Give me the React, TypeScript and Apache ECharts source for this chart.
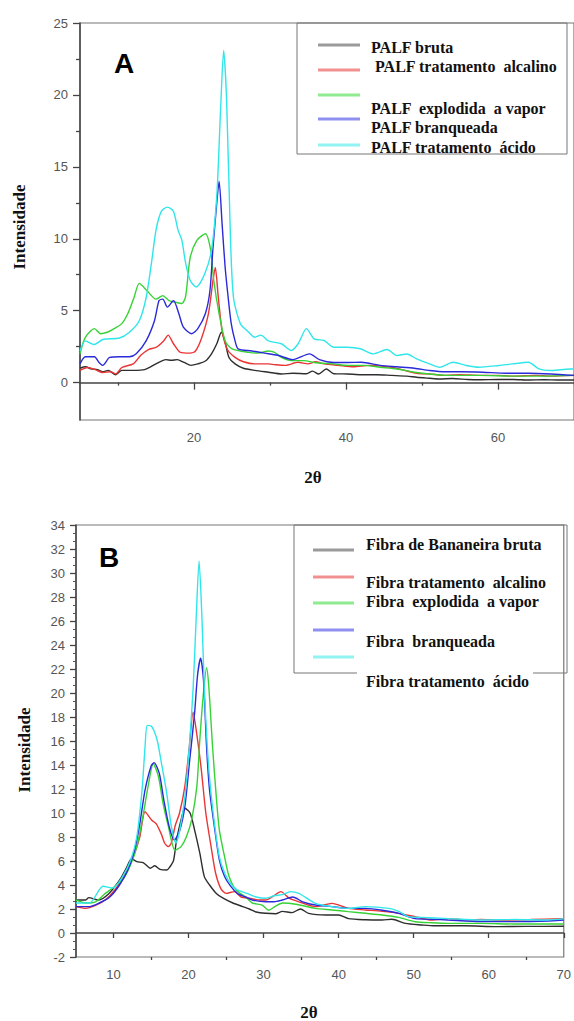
import React, { useEffect, useRef } from "react";
import * as echarts from "echarts";

// ---------- Chart A (PALF) ----------
const aBruta: number[][] = [[5,1.0],[5.7,1.1],[6.5,0.95],[7.3,0.9],[8,0.75],[8.7,0.85],[9.7,0.55],[10.5,0.85],[12,0.85],[13.5,0.9],[15,1.3],[16.3,1.6],[17,1.55],[17.8,1.6],[18.7,1.4],[19.6,1.2],[20.5,1.3],[21.5,1.5],[22.3,2.0],[23,2.7],[23.6,3.5],[24.1,2.8],[24.6,1.75],[25.4,1.3],[26.5,1.0],[28,0.85],[29.8,0.72],[31.5,0.6],[33,0.65],[34.8,0.62],[35.6,0.8],[36.4,0.6],[37.4,0.95],[38.4,0.62],[40.2,0.6],[42,0.55],[44,0.55],[46,0.5],[48,0.45],[49.3,0.37],[51,0.3],[52.3,0.25],[54,0.28],[56,0.22],[57.5,0.2],[60,0.22],[62,0.22],[64,0.18],[66,0.2],[68,0.18],[70,0.18]];
const aAlcalino: number[][] = [[5,0.85],[6,1.05],[7,0.9],[8,0.7],[9,0.75],[9.7,0.6],[10.5,1.05],[12,1.3],[13,1.9],[14,2.3],[15,2.45],[16,2.9],[16.6,3.3],[17.3,2.7],[18.2,2.1],[19.5,2.05],[20.2,2.2],[21,3.1],[21.9,4.8],[22.5,7.1],[22.8,8.0],[23.2,5.9],[23.7,3.6],[24.4,2.3],[25.4,1.75],[26.5,1.45],[28,1.3],[29.8,1.3],[30.6,1.25],[32,1.2],[33.7,1.41],[35,1.3],[36,1.45],[37.1,1.3],[39,1.2],[41,1.1],[43,1.2],[45.4,1.1],[47,0.95],[49.3,0.65],[51,0.6],[53,0.5],[55,0.55],[57.5,0.5],[60,0.5],[62,0.45],[65,0.5],[67,0.45],[70,0.5]];
const aExplodida: number[][] = [[5,2.0],[5.7,3.15],[6.9,3.75],[7.7,3.4],[8.6,3.5],[9.5,3.75],[10.5,4.1],[11.3,4.8],[12.1,5.9],[12.8,6.9],[13.8,6.4],[15,5.8],[15.9,6.05],[16.7,5.7],[17.5,5.6],[18.4,5.5],[18.9,6.0],[19.5,8.7],[20.4,9.9],[21.5,10.35],[22.2,9.2],[22.6,7.1],[23.3,4.8],[24.1,2.9],[25,2.35],[27.2,2.1],[28.5,2.05],[29.8,2.2],[30.6,2.1],[31.5,1.75],[32.8,1.53],[34.5,1.53],[35.8,1.4],[38.4,1.3],[40.2,1.2],[42.3,1.2],[44.5,1.07],[46.7,0.95],[49,0.72],[51,0.6],[53.2,0.5],[57.5,0.5],[62,0.45],[66,0.45],[70,0.5]];
const aBranqueada: number[][] = [[5,1.3],[5.7,1.8],[6.9,1.8],[7.5,1.4],[8,1.2],[8.9,1.75],[10.2,1.8],[11.5,1.8],[12.4,2.0],[13.7,2.9],[14.8,4.3],[15.4,5.7],[15.9,5.8],[16.5,5.25],[17.3,5.7],[18,4.8],[18.6,3.85],[19.7,3.4],[20.5,3.75],[21.5,4.8],[22.1,6.4],[22.5,9.4],[23.0,12.5],[23.3,14.0],[23.7,11.0],[24.1,8.0],[24.5,5.9],[24.9,4.1],[25.4,2.9],[25.8,2.35],[27.6,2.2],[29.3,2.05],[31,1.9],[33,1.6],[35.2,2.0],[36.5,1.6],[38.4,1.4],[40.2,1.4],[42,1.41],[44.5,1.2],[46.7,1.1],[49,1.0],[51,0.84],[53,0.75],[55,0.75],[58,0.72],[61,0.65],[64,0.65],[67,0.6],[70,0.5]];
const aAcido: number[][] = [[5,2.2],[5.7,2.9],[6.9,2.65],[8,3.0],[10.2,3.1],[11.5,3.5],[12.8,4.3],[13.7,5.9],[14.4,8.3],[15.0,10.6],[15.7,11.9],[16.5,12.2],[17.3,11.9],[17.9,10.6],[18.4,9.9],[18.9,8.3],[19.5,7.1],[20.3,6.65],[21.4,7.55],[22.3,9.2],[23.0,13.0],[23.5,19.0],[23.9,23.1],[24.3,19.5],[24.8,10.0],[25.2,5.9],[26.1,4.1],[27.2,3.5],[28.0,3.15],[28.8,3.3],[29.8,2.9],[31.5,2.7],[32.8,2.23],[33.7,2.7],[34.8,3.75],[35.8,3.04],[37.1,2.93],[38.4,2.46],[40.2,2.46],[41.9,2.35],[43.6,2.0],[45.4,2.3],[46.7,1.88],[48,1.99],[49.3,1.65],[51,1.3],[52.3,1.07],[54.1,1.41],[55.8,1.19],[57.5,1.07],[60.1,1.19],[61.9,1.3],[64,1.41],[65.4,0.95],[67.1,0.84],[69.4,0.95],[70,0.95]];

// ---------- Chart B (Bananeira) ----------
const bBruta: number[][] = [[5,2.75],[6.3,2.75],[6.7,2.95],[8,2.75],[9.4,3.3],[10.8,4.4],[11.7,5.4],[12.4,6.2],[13.1,5.95],[14,5.85],[14.9,5.4],[15.5,5.6],[16.2,5.3],[17.1,5.25],[17.5,5.5],[18,6.05],[18.4,7.75],[19.1,9.7],[19.5,10.4],[20.2,10.0],[20.8,8.6],[21.5,6.65],[22.1,4.7],[22.8,4.0],[23.7,3.3],[24.6,2.9],[25.9,2.5],[27.2,2.2],[28.1,2.0],[29,1.75],[30.3,1.64],[31.6,1.6],[32.5,1.8],[33.8,1.7],[34.9,2.0],[36,1.64],[38.3,1.5],[40,1.5],[41.3,1.2],[43.6,1.1],[45.8,1.08],[47.1,1.15],[48.9,0.8],[51.1,0.67],[52.8,0.6],[56.8,0.6],[61.2,0.53],[65,0.55],[70,0.56]];
const bAlcalino: number[][] = [[5,2.2],[6.3,2.05],[7.6,2.3],[8.9,2.75],[10.2,3.6],[11.5,4.85],[12.6,6.3],[13.5,8.0],[14.2,10.1],[15.1,9.4],[15.7,9.1],[16.4,8.2],[16.8,7.5],[17.3,7.2],[17.7,7.5],[18.2,8.9],[18.8,10.0],[19.5,12.2],[20.1,15.5],[20.6,18.4],[21.2,16.1],[21.7,13.6],[22.3,10.0],[23,7.2],[23.6,5.0],[24.3,3.7],[25,3.3],[26.1,3.45],[27,3.0],[28.1,2.9],[29.5,2.75],[30.3,2.75],[31.2,3.03],[32.3,3.45],[33.4,2.9],[34.7,2.6],[36.9,2.2],[39.1,2.47],[41.3,2.05],[43.6,1.92],[45.8,1.8],[48,1.64],[50.2,1.36],[52.4,1.08],[54.6,1.2],[56.8,1.08],[59,1.12],[61.2,1.08],[65.6,1.12],[69.9,1.2]];
const bExplodida: number[][] = [[5,2.75],[6.3,2.5],[7.6,2.6],[8.9,3.3],[10.2,3.9],[11.5,4.7],[12.6,6.2],[13.3,7.75],[14,10.0],[14.6,12.2],[15.3,14.1],[16,13.0],[16.6,10.8],[17.3,8.9],[18.2,6.9],[19,7.2],[19.7,8.0],[20.4,9.4],[21.1,12.2],[21.5,16.1],[21.9,19.4],[22.4,22.1],[22.7,20.5],[23.2,15.5],[23.7,11.3],[24.1,8.6],[24.8,6.35],[25.4,4.7],[26.3,3.6],[27.6,3.0],[28.5,2.5],[29.8,2.33],[30.7,1.9],[31.5,2.2],[32.5,2.5],[34.3,2.4],[36.9,2.05],[39.1,1.92],[41.3,1.78],[43.6,1.64],[45.8,1.5],[48,1.3],[50.2,0.94],[52.4,0.85],[54.6,0.8],[59,0.8],[63.4,0.75],[67.9,0.75],[70,0.75]];
const bBranqueada: number[][] = [[5,2.2],[6.8,2.2],[8.1,2.5],[9.5,3.0],[10.8,4.0],[11.9,5.25],[12.8,6.9],[13.5,9.1],[14.2,11.9],[15.0,13.9],[15.4,14.2],[16.1,13.3],[16.7,11.1],[17.4,8.9],[18.1,7.75],[18.8,8.5],[19.5,10.5],[20.1,14.1],[20.8,18.3],[21.2,21.5],[21.6,22.9],[22.0,21.0],[22.4,15.5],[22.8,11.9],[23.5,8.6],[24.1,6.1],[24.8,4.7],[25.6,3.9],[26.5,3.3],[27.6,3.0],[28.5,2.75],[30.3,2.6],[31.4,2.6],[32.5,2.75],[33.9,3.0],[35.2,2.6],[36.9,2.33],[39.1,2.2],[41.3,2.05],[43.6,2.05],[45.8,1.9],[48,1.64],[50.2,1.2],[52.4,1.15],[54.6,1.08],[59,0.95],[63.4,0.95],[67.9,1.0],[70,1.08]];
const bAcido: number[][] = [[5,2.5],[6.8,2.5],[8.6,3.9],[9.9,3.75],[11.2,4.7],[12.3,6.1],[13.1,8.0],[13.8,11.9],[14.2,15.5],[14.5,17.3],[15.1,17.2],[15.8,16.1],[16.4,14.1],[17.1,11.6],[17.7,8.9],[18.3,7.5],[18.8,8.5],[19.5,11.3],[20.1,15.5],[20.6,20.3],[21.0,26.0],[21.4,31.0],[21.8,26.0],[22.1,20.3],[22.5,15.5],[22.9,12.2],[23.5,8.9],[24.1,6.35],[24.8,5.0],[25.6,4.1],[26.5,3.6],[27.8,3.3],[29,3.0],[30.3,2.9],[31.4,3.1],[32.5,3.2],[33.6,3.45],[34.7,3.3],[36.9,2.47],[39.1,2.2],[41.3,2.05],[43.6,2.2],[46.7,2.05],[48,1.8],[49.3,1.36],[51,1.3],[54.6,1.2],[59,1.08],[63.4,1.12],[67.9,1.08],[70,1.2]];

const legendA = ["PALF bruta", "PALF tratamento  alcalino", "PALF  explodida  a vapor", "PALF branqueada", "PALF tratamento  ácido"];
const legendB = ["Fibra de Bananeira bruta", "Fibra tratamento  alcalino", "Fibra  explodida  a vapor", "Fibra  branqueada", "Fibra tratamento  ácido"];

const xTicksA = [20, 40, 60];
const xMinorA = [10, 30, 50, 70];
const yTicksA = [0, 5, 10, 15, 20, 25];
const yMinorA = [2.5, 7.5, 12.5, 17.5, 22.5];
const xTicksB = [10, 20, 30, 40, 50, 60, 70];
const xMinorB = [15, 25, 35, 45, 55, 65];

const lineColors = ["#2e2e2e", "#ea3535", "#36d236", "#2a2ad8", "#30e6ea"];
const legendColors = ["#9a9a9a", "#f29090", "#90ea90", "#8f8ff2", "#92f3f3"];

const SERIF = '"Liberation Serif", "Times New Roman", serif';
const SANS = '"Liberation Sans", Arial, sans-serif';

export default function App() {
  const ref = useRef<HTMLDivElement>(null);
  useEffect(() => {
    if (!ref.current) return;
    const chart = echarts.init(ref.current, undefined, { renderer: "svg" });
    const axisLine = { show: true, lineStyle: { color: "#444", width: 1.5 } };
    const tickLabel = { color: "#555", fontSize: 13, fontFamily: SANS };

    const mk = (name: string, data: number[][], i: number, grid: number) => ({
      type: "line",
      name,
      data,
      xAxisIndex: grid === 0 ? 0 : 2,
      yAxisIndex: grid === 0 ? 0 : 2,
      showSymbol: false,
      symbol: "none",
      smooth: 0.25,
      lineStyle: { color: lineColors[i], width: 1.4 },
      itemStyle: { color: lineColors[i] },
    });

    const seriesA = [aBruta, aAlcalino, aExplodida, aBranqueada, aAcido].map((d, i) => mk(legendA[i], d, i, 0));
    const seriesB = [bBruta, bAlcalino, bExplodida, bBranqueada, bAcido].map((d, i) => mk(legendB[i], d, i, 1));

    const legendLinesA = [45, 70, 95, 119, 145];
    const legendTextA = [47, 66, 108, 127, 147];
    const legendLinesB = [550, 577, 603, 630, 657];
    const legendTextB = [544, 582, 601, 641, 681];

    const elements: any[] = [];
    elements.push({ type: "rect", shape: { x: 297, y: 23, width: 270, height: 131 }, style: { fill: "transparent", stroke: "#777", lineWidth: 1 }, z: 10 });
    elements.push({ type: "rect", shape: { x: 294, y: 525, width: 273, height: 148 }, style: { fill: "transparent", stroke: "#777", lineWidth: 1 }, z: 10 });
    legendLinesA.forEach((y, i) => {
      elements.push({ type: "line", shape: { x1: 318, y1: y, x2: 360, y2: y }, style: { stroke: legendColors[i], lineWidth: 3 }, z: 11 });
    });
    legendLinesB.forEach((y, i) => {
      elements.push({ type: "line", shape: { x1: 313, y1: y, x2: 354, y2: y }, style: { stroke: legendColors[i], lineWidth: 3 }, z: 11 });
    });
    legendA.forEach((t, i) => {
      elements.push({ type: "text", x: i === 1 ? 375 : 371, y: legendTextA[i], style: { text: t, font: `bold 16px ${SERIF}`, fill: "#111", align: "left", verticalAlign: "middle", textAlign: "left", textVerticalAlign: "middle" }, z: 12 });
    });
    legendB.forEach((t, i) => {
      const last = i === 4;
      elements.push({
        type: "text", x: last ? 357 : 366, y: legendTextB[i],
        style: {
          text: t, font: `bold 16px ${SERIF}`, fill: "#111", align: "left", verticalAlign: "middle", textAlign: "left", textVerticalAlign: "middle",
          backgroundColor: last ? "#fff" : undefined, padding: last ? [5, 4, 2, 9] : undefined,
        },
        z: 12,
      });
    });
    // panel letters
    elements.push({ type: "text", x: 114, y: 63, style: { text: "A", font: `bold 28px ${SANS}`, fill: "#000", align: "left", verticalAlign: "middle", textAlign: "left", textVerticalAlign: "middle" }, z: 12 });
    elements.push({ type: "text", x: 99, y: 557, style: { text: "B", font: `bold 28px ${SANS}`, fill: "#000", align: "left", verticalAlign: "middle", textAlign: "left", textVerticalAlign: "middle" }, z: 12 });
    // axis titles
    elements.push({ type: "text", x: 19, y: 227, rotation: Math.PI / 2, style: { text: "Intensidade", font: `bold 17px ${SERIF}`, fill: "#111", align: "center", verticalAlign: "middle", textAlign: "center", textVerticalAlign: "middle" }, z: 12 });
    elements.push({ type: "text", x: 24, y: 750, rotation: Math.PI / 2, style: { text: "Intensidade", font: `bold 17px ${SERIF}`, fill: "#111", align: "center", verticalAlign: "middle", textAlign: "center", textVerticalAlign: "middle" }, z: 12 });
    elements.push({ type: "text", x: 313, y: 477, style: { text: "2θ", font: `bold 17px ${SERIF}`, fill: "#111", align: "center", verticalAlign: "middle", textAlign: "center", textVerticalAlign: "middle" }, z: 12 });
    elements.push({ type: "text", x: 309, y: 1012, style: { text: "2θ", font: `bold 17px ${SERIF}`, fill: "#111", align: "center", verticalAlign: "middle", textAlign: "center", textVerticalAlign: "middle" }, z: 12 });

    const option: any = {
      animation: false,
      backgroundColor: "#fff",
      grid: [
        { left: 80, top: 23, width: 499, height: 397, show: true, borderColor: "#777", borderWidth: 1.2, backgroundColor: "transparent" },
        { left: 76, top: 525, width: 490, height: 432, show: true, borderColor: "#777", borderWidth: 1.2, backgroundColor: "transparent" },
      ],
      xAxis: [
        {
          type: "value", gridIndex: 0, min: 5, max: 70, position: "bottom",
          axisLine, splitLine: { show: false },
          axisTick: { show: true, customValues: xTicksA, length: 7, lineStyle: { color: "#444", width: 1.3 } },
          axisLabel: { ...tickLabel, customValues: xTicksA, margin: 11 },
        },
        {
          type: "value", gridIndex: 0, min: 5, max: 70, position: "bottom", offset: 0,
          axisLine: { show: false }, splitLine: { show: false }, axisLabel: { show: false },
          axisTick: { show: true, customValues: xMinorA, length: 3, lineStyle: { color: "#444", width: 1.3 } },
        },
        {
          type: "value", gridIndex: 1, min: 5, max: 70, position: "bottom",
          axisLine, splitLine: { show: false },
          axisTick: { show: true, customValues: xTicksB, length: 5, lineStyle: { color: "#444", width: 1.3 } },
          axisLabel: { ...tickLabel, customValues: xTicksB, margin: 11 },
        },
        {
          type: "value", gridIndex: 1, min: 5, max: 70, position: "bottom", offset: 0,
          axisLine: { show: false }, splitLine: { show: false }, axisLabel: { show: false },
          axisTick: { show: true, customValues: xMinorB, length: 3, lineStyle: { color: "#444", width: 1.3 } },
        },
      ],
      yAxis: [
        {
          type: "value", gridIndex: 0, min: -2.6, max: 25, position: "left",
          axisLine, splitLine: { show: false },
          axisTick: { show: true, customValues: yTicksA, length: 7, lineStyle: { color: "#444", width: 1.3 } },
          axisLabel: { ...tickLabel, customValues: yTicksA, margin: 12 },
        },
        {
          type: "value", gridIndex: 0, min: -2.6, max: 25, position: "left", offset: 0,
          axisLine: { show: false }, splitLine: { show: false }, axisLabel: { show: false },
          axisTick: { show: true, customValues: yMinorA, length: 4, lineStyle: { color: "#444", width: 1.3 } },
        },
        {
          type: "value", gridIndex: 1, min: -2, max: 34, interval: 2, position: "left",
          axisLine, splitLine: { show: false },
          axisTick: { show: true, length: 6, lineStyle: { color: "#444", width: 1.3 } },
          minorTick: { show: true, splitNumber: 3, length: 3, lineStyle: { color: "#555", width: 1 } },
          minorSplitLine: { show: false },
          axisLabel: { ...tickLabel, margin: 11 },
        },
      ],
      series: [...seriesA, ...seriesB],
      graphic: { elements },
    };
    chart.setOption(option);
    return () => chart.dispose();
  }, []);
  return <div ref={ref} style={{ position: "absolute", left: 0, top: 0, width: 574, height: 1021 }} />;
}
